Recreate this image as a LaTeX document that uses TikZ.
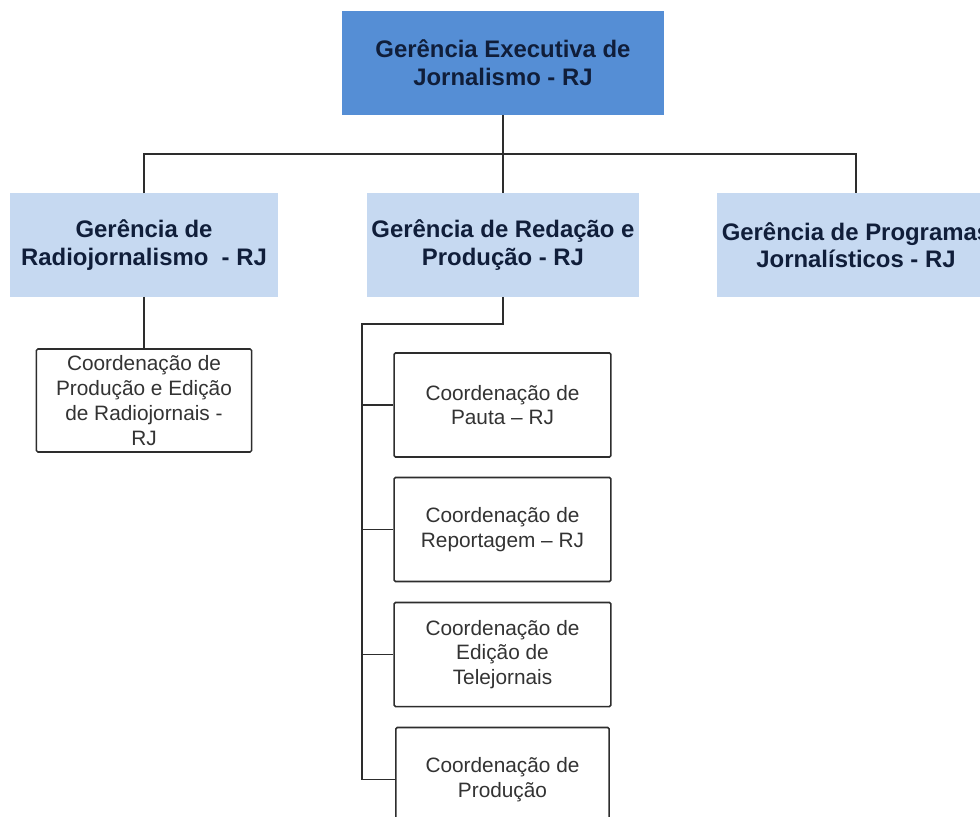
\documentclass[tikz,border=0pt]{standalone}
\usepackage{fontspec}
\setmainfont{Liberation Sans}
\usepackage{xcolor}
\usepackage{tikz}
\definecolor{headblue}{RGB}{85, 142, 213}
\definecolor{paleblue}{RGB}{198, 217, 241}
\definecolor{inkblue}{RGB}{16, 30, 58}
\definecolor{linegray}{RGB}{45, 45, 45}
\usetikzlibrary{positioning, calc}

\begin{document}
\begin{tikzpicture}[
    x=0.025cm, y=-0.025cm,
    head/.style={rectangle, fill=headblue, minimum width=8.05cm, minimum height=2.6cm, align=center, text=inkblue, font=\fontsize{17}{19.8}\selectfont\bfseries},
    manager/.style={rectangle, fill=paleblue, minimum width=6.7cm, minimum height=2.575cm, align=center, text=inkblue, font=\fontsize{17}{19.5}\selectfont\bfseries},
    coordbox/.style={rectangle, draw=linegray, line width=1.1pt, rounded corners=1pt, fill=white, minimum width=5.42cm, minimum height=2.6cm, align=center, text=black!80, font=\fontsize{14.8}{17.6}\selectfont},
    link/.style={draw=linegray, line width=1.1pt}
]
    \useasboundingbox (0,0) rectangle (980,816);
    \clip (0,0) rectangle (980,816);

    \node[head] (exec) at (503,63) {Gerência Executiva de\\Jornalismo - RJ};

    \node[manager] (radio) at (144,245) {Gerência de\\Radiojornalismo~~- RJ};
    \node[manager] (redacao) at (503,245) {Gerência de Redação e\\Produção - RJ};
    \node[manager] (programas) at (856,245) {Gerência de Programas\\Jornalísticos - RJ};

    \node[coordbox, minimum width=5.375cm, minimum height=2.575cm] (radiocoord) at (144,400.5) {Coordenação de\\Produção e Edição\\de Radiojornais -\\RJ};

    \node[coordbox] (pauta) at (502.5,405) {Coordenação de\\Pauta – RJ};
    \node[coordbox] (reportagem) at (502.5,529.5) {Coordenação de\\Reportagem – RJ};
    \node[coordbox] (edicao) at (502.5,654.5) {Coordenação de\\Edição de\\Telejornais};
    \node[coordbox, minimum width=5.33cm] (producao) at (502.5,779.5) {Coordenação de\\Produção};

    \coordinate (busleft) at (144,154);
    \coordinate (busright) at (856,154);
    \coordinate (spine) at (362,324);

    \draw[link] (exec) -- (redacao);
    \draw[link] (radio) -- (busleft) -- (busright) -- (programas);
    \draw[link] (radio) -- (radiocoord);
    \draw[link] (redacao.south) |- (spine) -- (spine |- producao.west);
    \foreach \kid in {pauta, reportagem, edicao, producao}
        \draw[link] (spine |- \kid.west) -- (\kid.west);
\end{tikzpicture}
\end{document}
